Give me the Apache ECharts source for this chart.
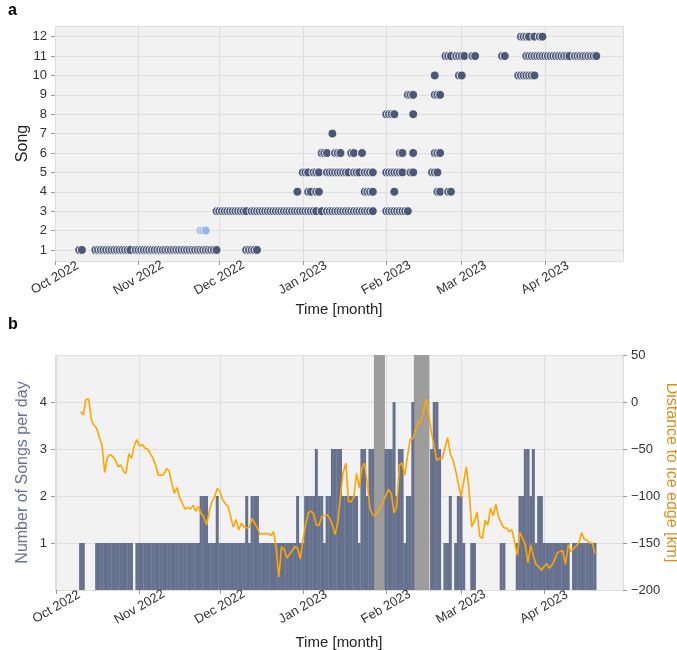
<!DOCTYPE html>
<html>
<head>
<meta charset="UTF-8">
<title>Songs per day and distance to ice edge</title>
<script src="https://cdn.jsdelivr.net/npm/echarts@6/dist/echarts.min.js"></script>
<style>
    html, body { margin: 0; padding: 0; background: #fff; }
    #chart { width: 677px; height: 650px; }
</style>
</head>
<body>
<div id="chart"></div>
<script>
// all days are counted from 1 Oct 2022 (day 0)
var song1 = [9, 10, 15, 16, 17, 18, 19, 20, 21, 22, 23, 24, 25, 26, 27, 28, 30, 31, 32, 33, 34, 35, 36, 37, 38, 39,
    40, 41, 42, 43, 44, 45, 46, 47, 48, 49, 50, 51, 52, 53, 54, 55, 56, 57, 58, 59, 60, 71, 72, 73, 74, 75];
var song2 = [54, 55, 56];
var song3 = [60, 61, 62, 63, 64, 65, 66, 67, 68, 69, 70, 71, 73, 74, 75, 76, 77, 78, 79, 80, 81, 82, 83, 84, 85, 86,
    87, 88, 89, 90, 91, 92, 93, 94, 95, 96, 97, 99, 101, 102, 103, 104, 105, 106, 107, 108, 109, 110, 111, 112, 113,
    114, 115, 116, 117, 118, 123, 124, 125, 126, 127, 128, 129, 130, 131];
var song4 = [90, 94, 95, 97, 98, 115, 116, 117, 118, 126, 142, 143, 146, 147];
var song5 = [92, 93, 94, 96, 97, 98, 101, 102, 103, 104, 105, 106, 107, 108, 109, 111, 112, 113, 115, 116, 117, 118,
    123, 124, 125, 126, 127, 128, 129, 132, 133, 140, 141, 142];
var song6 = [99, 100, 101, 104, 105, 106, 110, 111, 114, 128, 129, 133, 141, 142, 143];
var song7 = [103];
var song8 = [123, 124, 125, 126, 133];
var song9 = [131, 132, 133, 141, 142, 143];
var song10 = [141, 150, 151, 172, 173, 174, 175, 176, 177, 178];
var song11 = [145, 146, 147, 149, 150, 151, 152, 155, 156, 166, 167, 175, 176, 177, 178, 179, 180, 181, 182, 183,
    184, 185, 186, 187, 188, 189, 190, 191, 193, 194, 195, 196, 197, 198, 199, 200, 201];
var song12 = [173, 174, 175, 176, 178, 180, 181];

// songs per day, starting at day 9
var countStart = 9;
var songsPerDay = [
    1, 1, 0, 0, 0, 0, 1, 1, 1, 1,
    1, 1, 1, 1, 1, 1, 1, 1, 1, 1,
    0, 1, 1, 1, 1, 1, 1, 1, 1, 1,
    1, 1, 1, 1, 1, 1, 1, 1, 1, 1,
    1, 1, 1, 1, 1, 2, 2, 2, 1, 1,
    1, 2, 1, 1, 1, 1, 1, 1, 1, 1,
    1, 1, 2, 1, 2, 2, 2, 1, 1, 1,
    1, 1, 1, 1, 1, 1, 1, 1, 1, 1,
    1, 2, 1, 1, 2, 2, 2, 2, 3, 2,
    2, 1, 2, 2, 3, 3, 3, 3, 2, 2,
    2, 2, 2, 2, 1, 3, 3, 2, 3, 3,
    0, 0, 0, 0, 3, 3, 3, 4, 2, 3,
    3, 1, 2, 2, 4, 0, 0, 0, 0, 0,
    0, 3, 4, 4, 3, 0, 1, 1, 2, 0,
    1, 2, 2, 1, 0, 0, 1, 1, 0, 0,
    0, 0, 0, 0, 0, 0, 0, 1, 1, 0,
    0, 0, 0, 1, 2, 2, 3, 3, 2, 3,
    1, 2, 2, 1, 1, 1, 1, 1, 1, 1,
    1, 1, 1, 0, 1, 1, 1, 1, 1, 1,
    1, 1, 1
];

// distance to ice edge [km], daily from day 9
var iceStart = 9;
var iceEdgeKm = [
    -10, -14, 3, 3, -19, -25, -28, -38, -46, -75,
    -59, -56, -58, -62, -69, -67, -74, -76, -55, -60,
    -47, -40, -47, -45, -49, -50, -55, -60, -67, -78,
    -78, -77, -71, -73, -86, -97, -91, -102, -108, -114,
    -112, -114, -110, -116, -111, -119, -122, -131, -117, -106,
    -101, -92, -95, -104, -108, -111, -122, -133, -125, -136,
    -129, -133, -134, -133, -124, -129, -134, -141, -140, -140,
    -140, -142, -138, -156, -186, -154, -157, -166, -162, -158,
    -154, -155, -167, -147, -131, -118, -116, -119, -131, -131,
    -122, -121, -120, -124, -131, -141, -128, -100, -75, -65,
    -106, -106, -101, -76, -91, -70, -65, -87, -113, -120,
    -121, -116, -111, -105, -99, -93, -98, -118, -111, -67,
    -65, -78, -58, -40, -39, -30, -21, -22, -9, 3,
    -14, -33, -48, -62, -60, -60, -49, -38, -55, -62,
    -73, -87, -101, -85, -69, -94, -133, -127, -117, -143,
    -145, -126, -131, -113, -121, -109, -122, -129, -134, -134,
    -138, -136, -149, -163, -139, -145, -152, -171, -152, -164,
    -173, -175, -179, -175, -172, -177, -173, -168, -160, -159,
    -158, -173, -152, -159, -156, -153, -150, -139, -146, -147,
    -150, -150, -161
];

// periods without recordings (grey bands), in days
var gapPeriods = [[118.5, 122.6], [133.4, 139.2]];

var monthNames = ['Jan', 'Feb', 'Mar', 'Apr', 'May', 'Jun', 'Jul', 'Aug', 'Sep', 'Oct', 'Nov', 'Dec'];

var DAY = 86400000;
var t0 = new Date(2022, 9, 1).getTime();
function dayToTime(d) { return t0 + d * DAY; }

var xMin = dayToTime(0);
var xMax = dayToTime(210.9);

var songs = [song1, song2, song3, song4, song5, song6, song7, song8, song9, song10, song11, song12];
var mainPoints = [];
var song2Points = [];
songs.forEach(function (days, i) {
    days.forEach(function (d) {
        if (i === 1) song2Points.push([dayToTime(d), 2]);
        else mainPoints.push([dayToTime(d), i + 1]);
    });
});

var barData = songsPerDay.map(function (v, i) { return [dayToTime(countStart + i), v]; });
var iceData = iceEdgeKm.map(function (v, i) { return [dayToTime(iceStart + i), v]; });
var bands = gapPeriods.map(function (p) { return [{ xAxis: dayToTime(p[0]) }, { xAxis: dayToTime(p[1]) }]; });

var font = 'Liberation Sans, Arial, sans-serif';
var gridLine = { show: true, lineStyle: { color: '#dedede', width: 1 } };

function timeAxis(gridIndex, nameGap) {
    return {
        type: 'time',
        gridIndex: gridIndex,
        min: xMin,
        max: xMax,
        splitNumber: 7,
        axisLine: { show: false },
        axisTick: { show: true, length: 4, lineStyle: { color: '#999' } },
        splitLine: gridLine,
        axisLabel: {
            rotate: 30,
            align: 'center',
            verticalAlign: 'middle',
            fontSize: 13,
            fontFamily: font,
            color: '#333',
            margin: 17,
            showMaxLabel: false,
            formatter: function (val) {
                var d = new Date(val);
                return monthNames[d.getMonth()] + ' ' + d.getFullYear();
            }
        },
        name: 'Time [month]',
        nameLocation: 'middle',
        nameGap: nameGap,
        nameMoveOverlap: false,
        nameTextStyle: { fontSize: 15, fontFamily: font, color: '#222' }
    };
}

var chart = echarts.init(document.getElementById('chart'));
chart.setOption({
    animation: false,
    title: [
        { text: 'a', left: 3, top: -2, textStyle: { fontSize: 16, fontWeight: 'bold', fontFamily: font, color: '#000' } },
        { text: 'b', left: 3, top: 312, textStyle: { fontSize: 16, fontWeight: 'bold', fontFamily: font, color: '#000' } }
    ],
    grid: [
        { left: 55, right: 54, top: 26, height: 235, show: true, backgroundColor: '#f2f2f2', borderWidth: 0, outerBoundsMode: 'none' },
        { left: 55, right: 54, top: 355, height: 235, show: true, backgroundColor: '#f2f2f2', borderWidth: 0, outerBoundsMode: 'none' }
    ],
    xAxis: [timeAxis(0, 41), timeAxis(1, 45)],
    yAxis: [
        {
            type: 'value',
            gridIndex: 0,
            min: 0.43,
            max: 12.55,
            splitNumber: 12,
            axisLine: { show: false },
            axisTick: { show: true, length: 4, lineStyle: { color: '#999' } },
            splitLine: gridLine,
            axisLabel: { fontSize: 13, fontFamily: font, color: '#333', showMinLabel: false, showMaxLabel: false },
            name: 'Song',
            nameLocation: 'middle',
            nameGap: 24,
            nameMoveOverlap: false,
            nameTextStyle: { fontSize: 16, fontFamily: font, color: '#222' }
        },
        {
            type: 'value',
            gridIndex: 1,
            min: 0,
            max: 5,
            interval: 1,
            axisLine: { show: false },
            axisTick: { show: true, length: 4, lineStyle: { color: '#999' } },
            splitLine: gridLine,
            axisLabel: { fontSize: 13, fontFamily: font, color: '#333', showMinLabel: false, showMaxLabel: false },
            name: 'Number of Songs per day',
            nameLocation: 'middle',
            nameGap: 24,
            nameMoveOverlap: false,
            nameTextStyle: { fontSize: 16, fontFamily: font, color: '#66729a' }
        },
        {
            type: 'value',
            gridIndex: 1,
            position: 'right',
            min: -200,
            max: 50,
            interval: 50,
            axisLine: { show: false },
            axisTick: { show: true, length: 4, lineStyle: { color: '#999' } },
            splitLine: { show: false },
            axisLabel: {
                fontSize: 13, fontFamily: font, color: '#333',
                formatter: function (v) { return String(v).replace('-', '\u2212'); }
            },
            name: 'Distance to ice edge [km]',
            nameLocation: 'middle',
            nameRotate: -90,
            nameGap: 40,
            nameMoveOverlap: false,
            nameTextStyle: { fontSize: 16, fontFamily: font, color: '#e08e1c' }
        }
    ],
    series: [
        {
            name: 'Songs',
            type: 'scatter',
            xAxisIndex: 0,
            yAxisIndex: 0,
            symbolSize: 9,
            itemStyle: { color: '#4b5878', borderColor: '#ffffff', borderWidth: 0.9, opacity: 1 },
            data: mainPoints
        },
        {
            name: 'Song 2',
            type: 'scatter',
            xAxisIndex: 0,
            yAxisIndex: 0,
            symbolSize: 9,
            itemStyle: { color: '#93b8e2', borderColor: '#ffffff', borderWidth: 0.9, opacity: 1 },
            data: song2Points
        },
        {
            name: 'Songs per day',
            type: 'bar',
            xAxisIndex: 1,
            yAxisIndex: 1,
            barWidth: 3,
            z: 2,
            itemStyle: { color: '#66718e' },
            data: barData,
            markArea: {
                silent: true,
                itemStyle: { color: '#9d9d9d', opacity: 1 },
                data: bands
            }
        },
        {
            name: 'Distance to ice edge',
            type: 'line',
            xAxisIndex: 1,
            yAxisIndex: 2,
            z: 5,
            showSymbol: false,
            lineStyle: { color: '#ffa500', width: 1.6 },
            itemStyle: { color: '#ffa500' },
            data: iceData
        }
    ]
});
</script>
</body>
</html>
